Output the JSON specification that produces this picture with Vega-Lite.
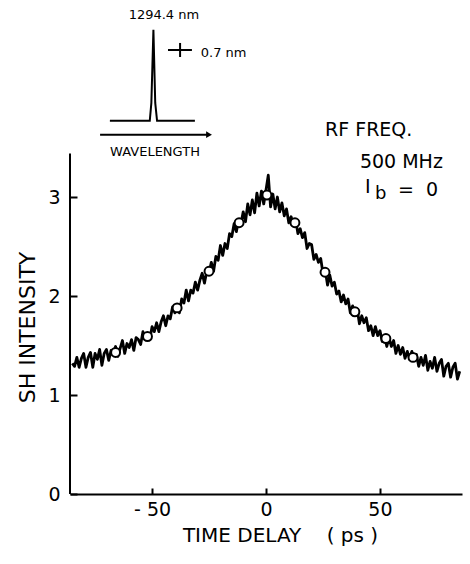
{
  "$schema": "https://vega.github.io/schema/vega-lite/v6.json",
  "width": 392,
  "height": 494,
  "autosize": {"type": "none"},
  "padding": {"left": 70, "top": 0, "right": 8, "bottom": 70},
  "background": "white",
  "config": {
    "view": {"stroke": null},
    "font": "DejaVu Sans",
    "axis": {"grid": false, "domainColor": "black", "tickColor": "black", "labelColor": "black", "titleColor": "black", "titleFontWeight": "normal", "domainWidth": 2, "tickWidth": 2}
  },
  "datasets": {
    "curve": [
      {"t": -85, "v": 1.32}, {"t": -84, "v": 1.29}, {"t": -83, "v": 1.38}, {"t": -82, "v": 1.28}, {"t": -81, "v": 1.37},
      {"t": -80, "v": 1.42}, {"t": -79, "v": 1.28}, {"t": -78, "v": 1.38}, {"t": -77, "v": 1.43}, {"t": -76, "v": 1.28},
      {"t": -75, "v": 1.42}, {"t": -74, "v": 1.36}, {"t": -73, "v": 1.46}, {"t": -72, "v": 1.30}, {"t": -71, "v": 1.42},
      {"t": -70, "v": 1.46}, {"t": -69, "v": 1.35}, {"t": -68, "v": 1.45}, {"t": -67, "v": 1.41}, {"t": -66, "v": 1.49},
      {"t": -65, "v": 1.39}, {"t": -64, "v": 1.47}, {"t": -63, "v": 1.55}, {"t": -62, "v": 1.42}, {"t": -61, "v": 1.52},
      {"t": -60, "v": 1.48}, {"t": -59, "v": 1.56}, {"t": -58, "v": 1.45}, {"t": -57, "v": 1.58}, {"t": -56, "v": 1.56},
      {"t": -55, "v": 1.51}, {"t": -54, "v": 1.64}, {"t": -53, "v": 1.56}, {"t": -52, "v": 1.62}, {"t": -51, "v": 1.56},
      {"t": -50, "v": 1.69}, {"t": -49, "v": 1.64}, {"t": -48, "v": 1.73}, {"t": -47, "v": 1.64}, {"t": -46, "v": 1.74},
      {"t": -45, "v": 1.80}, {"t": -44, "v": 1.70}, {"t": -43, "v": 1.80}, {"t": -42, "v": 1.77}, {"t": -41, "v": 1.89},
      {"t": -40, "v": 1.83}, {"t": -39, "v": 1.90}, {"t": -38, "v": 1.83}, {"t": -37, "v": 1.97}, {"t": -36, "v": 1.93},
      {"t": -35, "v": 2.06}, {"t": -34, "v": 1.95}, {"t": -33, "v": 2.06}, {"t": -32, "v": 2.03}, {"t": -31, "v": 2.14},
      {"t": -30, "v": 2.06}, {"t": -29, "v": 2.16}, {"t": -28, "v": 2.23}, {"t": -27, "v": 2.13}, {"t": -26, "v": 2.25},
      {"t": -25, "v": 2.23}, {"t": -24, "v": 2.34}, {"t": -23, "v": 2.25}, {"t": -22, "v": 2.40}, {"t": -21, "v": 2.36},
      {"t": -20, "v": 2.51}, {"t": -19, "v": 2.41}, {"t": -18, "v": 2.53}, {"t": -17, "v": 2.48}, {"t": -16, "v": 2.63},
      {"t": -15, "v": 2.60}, {"t": -14, "v": 2.73}, {"t": -13, "v": 2.65}, {"t": -12, "v": 2.77}, {"t": -11, "v": 2.73},
      {"t": -10, "v": 2.85}, {"t": -9, "v": 2.75}, {"t": -8, "v": 2.93}, {"t": -7, "v": 2.82}, {"t": -6, "v": 2.97},
      {"t": -5, "v": 2.84}, {"t": -4, "v": 3.04}, {"t": -3, "v": 2.91}, {"t": -2, "v": 3.06}, {"t": -1, "v": 2.93},
      {"t": 0, "v": 3.07}, {"t": 1, "v": 3.22}, {"t": 2, "v": 2.90}, {"t": 3, "v": 3.03}, {"t": 4, "v": 2.88},
      {"t": 5, "v": 3.00}, {"t": 6, "v": 2.85}, {"t": 7, "v": 2.94}, {"t": 8, "v": 2.81}, {"t": 9, "v": 2.88},
      {"t": 10, "v": 2.74}, {"t": 11, "v": 2.80}, {"t": 12, "v": 2.73}, {"t": 13, "v": 2.77}, {"t": 14, "v": 2.63},
      {"t": 15, "v": 2.68}, {"t": 16, "v": 2.59}, {"t": 17, "v": 2.64}, {"t": 18, "v": 2.48}, {"t": 19, "v": 2.53},
      {"t": 20, "v": 2.52}, {"t": 21, "v": 2.37}, {"t": 22, "v": 2.42}, {"t": 23, "v": 2.34}, {"t": 24, "v": 2.38},
      {"t": 25, "v": 2.23}, {"t": 26, "v": 2.26}, {"t": 27, "v": 2.11}, {"t": 28, "v": 2.21}, {"t": 29, "v": 2.10},
      {"t": 30, "v": 2.14}, {"t": 31, "v": 2.02}, {"t": 32, "v": 2.05}, {"t": 33, "v": 1.94}, {"t": 34, "v": 2.01},
      {"t": 35, "v": 1.92}, {"t": 36, "v": 1.97}, {"t": 37, "v": 1.83}, {"t": 38, "v": 1.90}, {"t": 39, "v": 1.81},
      {"t": 40, "v": 1.87}, {"t": 41, "v": 1.72}, {"t": 42, "v": 1.80}, {"t": 43, "v": 1.73}, {"t": 44, "v": 1.78},
      {"t": 45, "v": 1.65}, {"t": 46, "v": 1.70}, {"t": 47, "v": 1.60}, {"t": 48, "v": 1.69}, {"t": 49, "v": 1.60},
      {"t": 50, "v": 1.65}, {"t": 51, "v": 1.54}, {"t": 52, "v": 1.60}, {"t": 53, "v": 1.49}, {"t": 54, "v": 1.58},
      {"t": 55, "v": 1.49}, {"t": 56, "v": 1.55}, {"t": 57, "v": 1.42}, {"t": 58, "v": 1.50}, {"t": 59, "v": 1.41},
      {"t": 60, "v": 1.48}, {"t": 61, "v": 1.37}, {"t": 62, "v": 1.44}, {"t": 63, "v": 1.37}, {"t": 64, "v": 1.44},
      {"t": 65, "v": 1.35}, {"t": 66, "v": 1.41}, {"t": 67, "v": 1.29}, {"t": 68, "v": 1.38}, {"t": 69, "v": 1.30},
      {"t": 70, "v": 1.40}, {"t": 71, "v": 1.25}, {"t": 72, "v": 1.34}, {"t": 73, "v": 1.27}, {"t": 74, "v": 1.38},
      {"t": 75, "v": 1.24}, {"t": 76, "v": 1.32}, {"t": 77, "v": 1.36}, {"t": 78, "v": 1.19}, {"t": 79, "v": 1.29},
      {"t": 80, "v": 1.32}, {"t": 81, "v": 1.18}, {"t": 82, "v": 1.28}, {"t": 83, "v": 1.32}, {"t": 84, "v": 1.16},
      {"t": 85, "v": 1.24}
    ],
    "circles": [
      {"t": -66, "v": 1.43}, {"t": -52, "v": 1.59}, {"t": -39, "v": 1.88}, {"t": -25, "v": 2.25},
      {"t": -11.8, "v": 2.74}, {"t": 0.4, "v": 3.02}, {"t": 12.7, "v": 2.74}, {"t": 25.9, "v": 2.24},
      {"t": 39, "v": 1.84}, {"t": 52.6, "v": 1.57}, {"t": 64.5, "v": 1.38}
    ],
    "yaxisline": [{"x": -86, "y0": 0, "y1": 3.44}],
    "inset": [
      {"seg": "spectrum", "o": 1, "x": -68.5, "y": 3.77},
      {"seg": "spectrum", "o": 2, "x": -51.0, "y": 3.77},
      {"seg": "spectrum", "o": 3, "x": -50.3, "y": 3.95},
      {"seg": "spectrum", "o": 4, "x": -49.4, "y": 4.69},
      {"seg": "spectrum", "o": 5, "x": -48.6, "y": 3.95},
      {"seg": "spectrum", "o": 6, "x": -47.8, "y": 3.77},
      {"seg": "spectrum", "o": 7, "x": -31.2, "y": 3.77},
      {"seg": "arrow", "o": 1, "x": -72.8, "y": 3.63},
      {"seg": "arrow", "o": 2, "x": -25.4, "y": 3.63},
      {"seg": "resh", "o": 1, "x": -43.0, "y": 4.485},
      {"seg": "resh", "o": 2, "x": -32.5, "y": 4.485},
      {"seg": "resv", "o": 1, "x": -37.7, "y": 4.556},
      {"seg": "resv", "o": 2, "x": -37.7, "y": 4.414}
    ],
    "arrowhead": [{"x": -25.0, "y": 3.63}],
    "insetText": [
      {"x": -44.8, "y": 4.84, "label": "1294.4 nm"},
      {"x": -18.6, "y": 4.455, "label": "0.7 nm"},
      {"x": -48.7, "y": 3.455, "label": "WAVELENGTH"}
    ],
    "notes": [
      {"x": 25.9, "y": 3.68, "label": "RF FREQ."},
      {"x": 41.2, "y": 3.35, "label": "500 MHz"},
      {"x": 43.4, "y": 3.10, "label": "I"},
      {"x": 57.9, "y": 3.07, "label": "=\u00a0 0"}
    ],
    "sub": [{"x": 47.8, "y": 3.03, "label": "b"}]
  },
  "layer": [
    {
      "data": {"name": "yaxisline"},
      "mark": {"type": "rule", "color": "black", "strokeWidth": 2},
      "encoding": {
        "x": {"field": "x", "type": "quantitative", "scale": {"domain": [-86, 86], "nice": false, "zero": false}},
        "y": {"field": "y0", "type": "quantitative", "scale": {"domain": [0, 4.99], "nice": false}},
        "y2": {"field": "y1"}
      }
    },
    {
      "data": {"name": "curve"},
      "mark": {"type": "line", "color": "black", "strokeWidth": 2.8, "strokeJoin": "round"},
      "encoding": {
        "x": {"field": "t", "type": "quantitative",
          "axis": {"values": [-50, 0, 50], "tickSize": -6, "labelPadding": 12, "labelFontSize": 19, "labelExpr": "datum.value < 0 ? '- ' + abs(datum.value) + '\u00a0\u00a0' : datum.label",
            "title": "TIME DELAY\u00a0\u00a0\u00a0 (\u00a0ps\u00a0)", "titleFontSize": 20, "titleX": 210, "titleY": 41, "titleBaseline": "middle", "titleAnchor": "middle", "titleAlign": "center"}},
        "y": {"field": "v", "type": "quantitative",
          "axis": {"values": [0, 1, 2, 3], "format": "d", "domain": false, "tickSize": -7, "labelPadding": 17, "labelFontSize": 19,
            "title": "SH INTENSITY", "titleFontSize": 22, "titleX": -43, "titleY": 327, "titleAngle": -90, "titleBaseline": "middle", "titleAlign": "center"}}
      }
    },
    {
      "data": {"name": "circles"},
      "mark": {"type": "point", "shape": "circle", "filled": false, "fill": "white", "fillOpacity": 1, "stroke": "black", "strokeWidth": 2, "size": 80, "opacity": 1},
      "encoding": {
        "x": {"field": "t", "type": "quantitative"},
        "y": {"field": "v", "type": "quantitative"}
      }
    },
    {
      "data": {"name": "inset"},
      "mark": {"type": "line", "color": "black", "strokeWidth": 2},
      "encoding": {
        "x": {"field": "x", "type": "quantitative"},
        "y": {"field": "y", "type": "quantitative"},
        "detail": {"field": "seg"},
        "order": {"field": "o"}
      }
    },
    {
      "data": {"name": "arrowhead"},
      "mark": {"type": "point", "shape": "triangle-right", "filled": true, "color": "black", "size": 45, "opacity": 1},
      "encoding": {
        "x": {"field": "x", "type": "quantitative"},
        "y": {"field": "y", "type": "quantitative"}
      }
    },
    {
      "data": {"name": "insetText"},
      "mark": {"type": "text", "fontSize": 13, "color": "black", "align": "center", "baseline": "middle"},
      "encoding": {
        "x": {"field": "x", "type": "quantitative"},
        "y": {"field": "y", "type": "quantitative"},
        "text": {"field": "label"}
      }
    },
    {
      "data": {"name": "notes"},
      "mark": {"type": "text", "fontSize": 19, "color": "black", "align": "left", "baseline": "middle"},
      "encoding": {
        "x": {"field": "x", "type": "quantitative"},
        "y": {"field": "y", "type": "quantitative"},
        "text": {"field": "label"}
      }
    },
    {
      "data": {"name": "sub"},
      "mark": {"type": "text", "fontSize": 18, "color": "black", "align": "left", "baseline": "middle"},
      "encoding": {
        "x": {"field": "x", "type": "quantitative"},
        "y": {"field": "y", "type": "quantitative"},
        "text": {"field": "label"}
      }
    }
  ]
}
